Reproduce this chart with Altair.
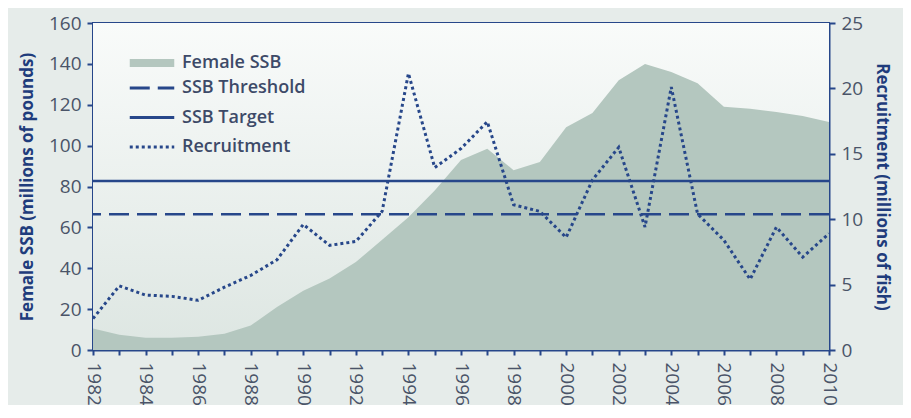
import altair as alt
import pandas as pd

years = list(range(1982, 2011))
ssb = [10.5, 7.5, 6.0, 6.0, 6.5, 8.0, 12.0, 21.0, 29.0, 35.0, 43.0, 54.0, 65.0,
       78.0, 93.0, 98.5, 88.0, 92.0, 109.0, 116.0, 132.0, 140.0, 136.0, 130.5,
       119.0, 118.0, 116.5, 114.5, 111.5]
recruitment = [2.4, 4.9, 4.2, 4.1, 3.8, 4.8, 5.7, 6.9, 9.6, 8.0, 8.3, 10.6, 21.15,
               13.95, 15.4, 17.45, 11.1, 10.6, 8.6, 13.0, 15.5, 9.4, 20.1, 10.4,
               8.4, 5.4, 9.4, 7.1, 8.9]
ref_names = ["SSB Threshold", "SSB Target"]
ref_values = [66.4, 82.7]
line_series = ["SSB Threshold", "SSB Target", "Recruitment"]

NAVY = "#27478a"
AREA = "#b4c7bf"
LABEL = "#4a5468"
TITLE = "#1f3c7c"
FONT = "Open Sans"

ssb_df = pd.DataFrame({"year": years, "value": ssb, "series": "Female SSB"})
rec_df = pd.DataFrame({"year": years, "value": recruitment, "series": "Recruitment"})
ref_df = pd.DataFrame({"series": ref_names, "value": ref_values})

fill_scale = alt.Scale(domain=["Female SSB"], range=[AREA])
color_scale = alt.Scale(domain=line_series, range=[NAVY, NAVY, NAVY])
dash_scale = alt.Scale(domain=line_series, range=[[20, 8], [1, 0], [3, 3]])

common = dict(title=None, orient="none", labelFont=FONT, labelFontSize=18,
              labelFontWeight=600, labelColor="#3d4a68", labelOffset=21,
              padding=0, symbolSize=220)

area_legend = alt.Legend(legendX=50, legendY=31,
                         symbolType="M-3,-0.55L3,-0.55L3,0.55L-3,0.55Z",
                         symbolStrokeWidth=0, symbolOpacity=1, **common)
line_legend = alt.Legend(legendX=50, legendY=56, symbolType="M-3,0L3,0",
                         symbolStrokeWidth=2.8, rowPadding=11.5, **common)

x = alt.X("year:Q", scale=alt.Scale(domain=[1982, 2010], nice=False, zero=False),
          axis=alt.Axis(values=years, labelExpr="datum.value % 2 == 0 ? datum.value : ''",
                        labelAngle=90, labelAlign="left", labelBaseline="middle",
                        title=None, grid=False, tickSize=5, labelPadding=7))

backdrop = alt.Chart(pd.DataFrame({"k": [0]})).mark_rect(
    color=alt.Gradient(gradient="linear", x1=0, x2=0, y1=0, y2=1,
                       stops=[alt.GradientStop(color="#f9fbfa", offset=0),
                              alt.GradientStop(color="#dde6e2", offset=1)])
).encode(x=alt.value(0), x2=alt.value(736), y=alt.value(0), y2=alt.value(327))

area = alt.Chart(ssb_df).mark_area(opacity=1).encode(
    x=x,
    y=alt.Y("value:Q", scale=alt.Scale(domain=[0, 160], nice=False),
            axis=alt.Axis(orient="left", values=list(range(0, 161, 20)),
                          title="Female SSB (millions of pounds)", grid=False,
                          tickSize=6, labelPadding=6, titlePadding=12)),
    fill=alt.Fill("series:N", scale=fill_scale, legend=area_legend),
)

rules = alt.Chart(ref_df).mark_rule(strokeWidth=2.6).encode(
    y=alt.Y("value:Q", scale=alt.Scale(domain=[0, 160], nice=False), axis=None),
    color=alt.Color("series:N", scale=color_scale, legend=line_legend),
    strokeDash=alt.StrokeDash("series:N", scale=dash_scale, legend=line_legend),
)

rec = alt.Chart(rec_df).mark_line(strokeWidth=3).encode(
    x=x,
    y=alt.Y("value:Q", scale=alt.Scale(domain=[0, 25], nice=False),
            axis=alt.Axis(orient="right", values=[0, 5, 10, 15, 20, 25],
                          title="Recruitment (millions of fish)", titleAngle=90,
                          grid=False, tickSize=6, labelPadding=6, titlePadding=10)),
    color=alt.Color("series:N", scale=color_scale, legend=line_legend),
    strokeDash=alt.StrokeDash("series:N", scale=dash_scale, legend=line_legend),
)

chart = alt.layer(backdrop, area, rules, rec).resolve_scale(y="independent").properties(
    width=736, height=327,
    autosize=alt.AutoSizeParams(type="none"),
    padding={"left": 85, "top": 15, "right": 74, "bottom": 55},
    background="#e6ecea",
).configure_view(
    stroke=NAVY, strokeWidth=2,
).configure_axis(
    domainColor=NAVY, domainWidth=2, tickColor=NAVY, tickWidth=2,
    labelFont=FONT, labelFontSize=19, labelColor=LABEL,
    titleFont=FONT, titleFontSize=17, titleFontWeight="bold", titleColor=TITLE,
)

chart.save("out.html", embed_options={"renderer": "svg", "actions": False})
